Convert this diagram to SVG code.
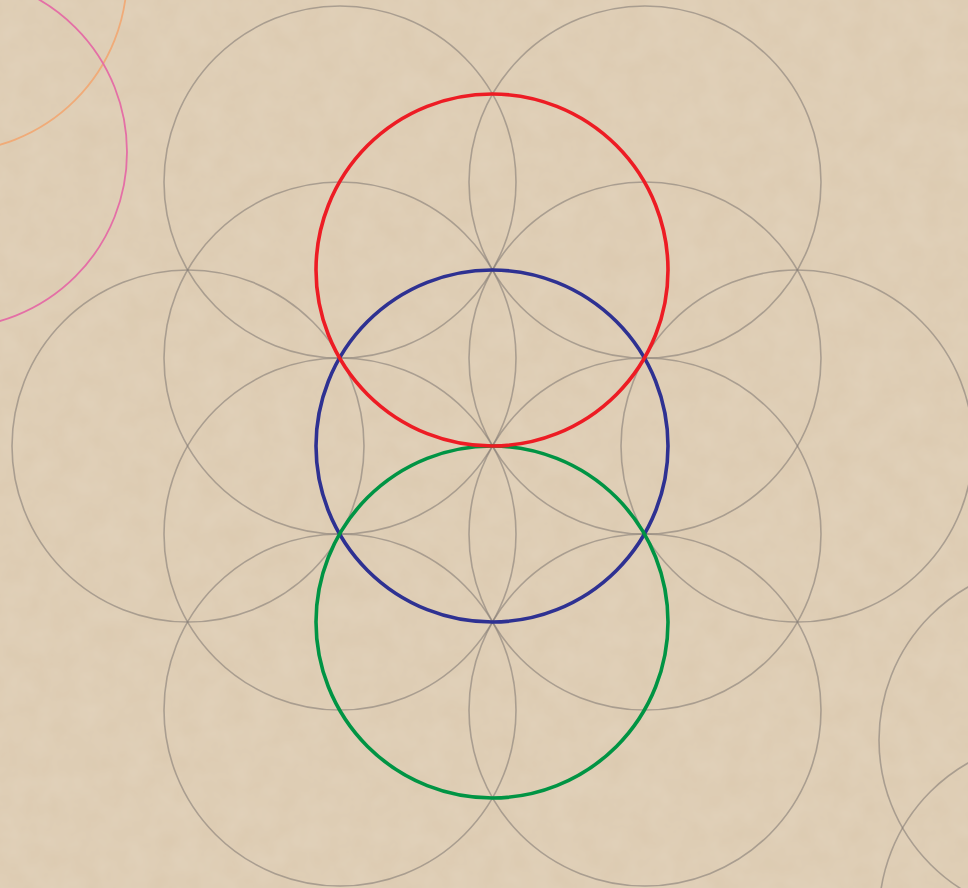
<svg xmlns="http://www.w3.org/2000/svg" width="968" height="888" viewBox="0 0 968 888">
  <defs>
    <style>
      .g { fill: none; stroke: #857d76; stroke-opacity: 0.6; stroke-width: 1.6; }
      .c { fill: none; stroke-width: 3.6; }
      .thin { fill: none; stroke-width: 1.8; }
    </style>
    <filter id="paper" x="0" y="0" width="100%" height="100%">
      <feTurbulence type="fractalNoise" baseFrequency="0.04" numOctaves="3" seed="3"/>
      <feColorMatrix type="matrix" values="0 0 0 0 0.95  0 0 0 0 0.9  0 0 0 0 0.82  0 0 0 0.18 0"/>
    </filter>
  </defs>
  <rect width="968" height="888" fill="#dccab0"/>
  <rect width="968" height="888" filter="url(#paper)"/>

  <g id="corner-top-left">
    <circle class="thin" cx="-50" cy="-25" r="177" stroke="#f0ab78"/>
    <circle class="thin" cx="-49" cy="152" r="176" stroke="#e46fa6"/>
  </g>

  <g id="grid">
    <circle class="g" cx="340" cy="182" r="176"/>
    <circle class="g" cx="645" cy="182" r="176"/>
    <circle class="g" cx="340" cy="358" r="176"/>
    <circle class="g" cx="645" cy="358" r="176"/>
    <circle class="g" cx="188" cy="446" r="176"/>
    <circle class="g" cx="797" cy="446" r="176"/>
    <circle class="g" cx="340" cy="534" r="176"/>
    <circle class="g" cx="645" cy="534" r="176"/>
    <circle class="g" cx="340" cy="710" r="176"/>
    <circle class="g" cx="645" cy="710" r="176"/>
    <circle class="g" cx="1055" cy="740" r="176"/>
    <circle class="g" cx="1055" cy="916" r="176"/>
  </g>

  <g id="blue-circle"><circle class="c" cx="492" cy="446" r="176" stroke="#2e3192"/></g>
  <g id="green-circle"><circle class="c" cx="492" cy="622" r="176" stroke="#009444"/></g>
  <g id="red-circle"><circle class="c" cx="492" cy="270" r="176" stroke="#ed1c24"/></g>
</svg>
